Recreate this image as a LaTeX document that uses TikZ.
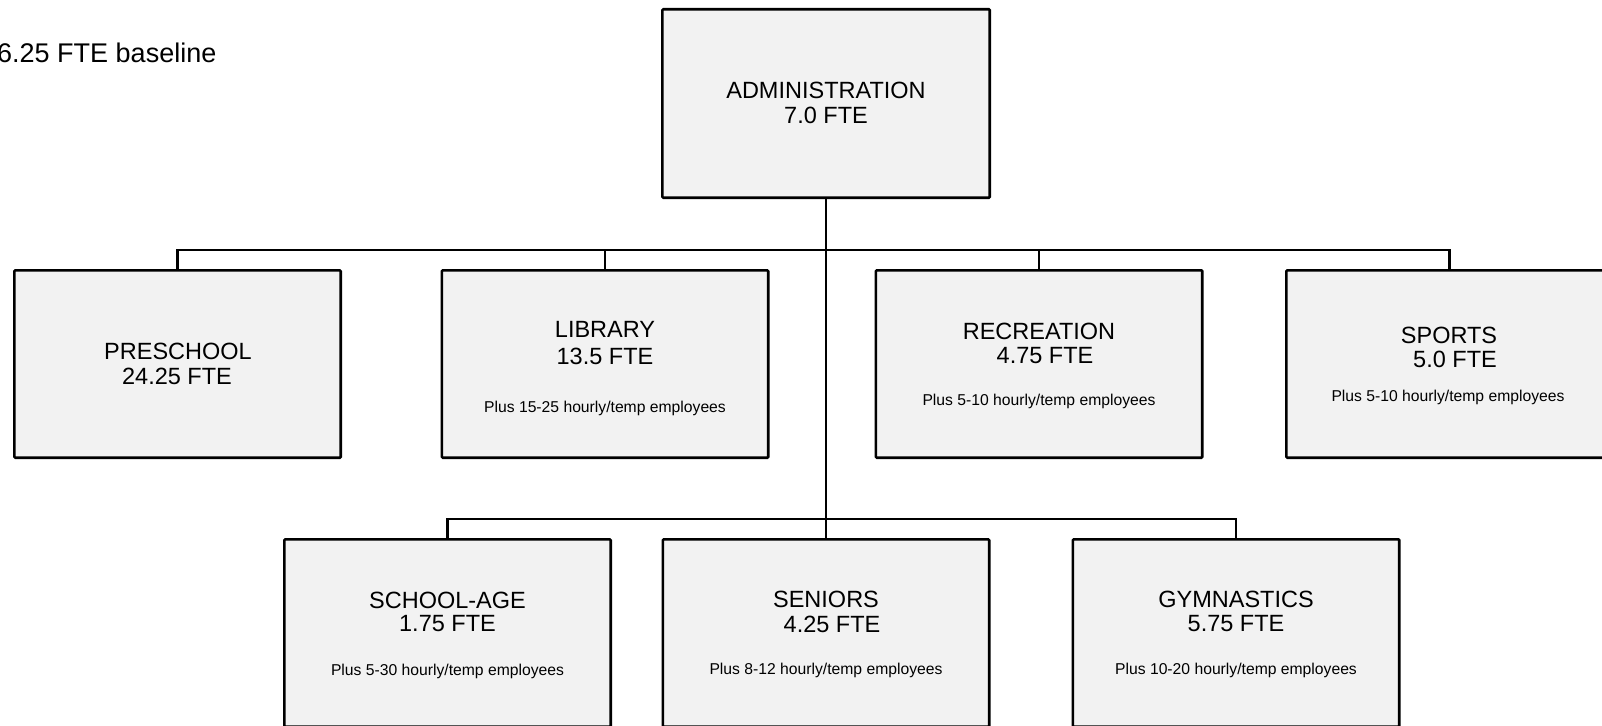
\documentclass[tikz,border=0pt]{standalone}
\usepackage{fontspec}
\setmainfont{Liberation Sans}
\definecolor{boxgray}{HTML}{F2F2F2}
\begin{document}
\begin{tikzpicture}[x=1pt,y=-1pt,
    unitbox/.style={draw, line width=2.6pt, fill=boxgray, rounded corners=1pt,
      minimum width=326.4pt, minimum height=187.4pt},
    unitname/.style={anchor=base, inner sep=0pt, font=\fontsize{23.5}{26}\selectfont},
    unitextra/.style={anchor=base, inner sep=0pt, font=\fontsize{15.7}{17}\selectfont},
    link/.style={line width=2.4pt}]
  \clip (0,0) rectangle (1602,725);
  \fill[white] (0,0) rectangle (1602,725);

  \node[anchor=base west, inner sep=0pt, font=\fontsize{27}{29}\selectfont] (baseline) at (-3,63) {6.25 FTE baseline};

  % boxes
  \node[unitbox, minimum width=327.4pt, minimum height=188.4pt] (admin) at (826,103.5) {};
  \node[unitbox] (preschool) at (177.5,364) {};
  \node[unitbox] (library) at (605,364) {};
  \node[unitbox] (recreation) at (1039,364) {};
  \node[unitbox] (sports) at (1449.5,364) {};
  \node[unitbox] (schoolage) at (447.5,633) {};
  \node[unitbox] (seniors) at (826,633) {};
  \node[unitbox] (gymnastics) at (1236,633) {};

  % texts
  \node[unitname] (admin-name) at (826,98.3) {ADMINISTRATION};
  \node[unitname] (admin-fte) at (826,123) {7.0 FTE};

  \node[unitname] (preschool-name) at (178,359.3) {PRESCHOOL};
  \node[unitname] (preschool-fte) at (177,384) {24.25 FTE};

  \node[unitname] (library-name) at (605,337.7) {LIBRARY};
  \node[unitname] (library-fte) at (605,364.3) {13.5 FTE};
  \node[unitextra] (library-extra) at (605,412.5) {Plus 15-25 hourly/temp employees};

  \node[unitname] (recreation-name) at (1039,339) {RECREATION};
  \node[unitname] (recreation-fte) at (1045,363.3) {4.75 FTE};
  \node[unitextra] (recreation-extra) at (1039,405) {Plus 5-10 hourly/temp employees};

  \node[unitname] (sports-name) at (1449,343.3) {SPORTS};
  \node[unitname] (sports-fte) at (1455,367.7) {5.0 FTE};
  \node[unitextra] (sports-extra) at (1448,401.5) {Plus 5-10 hourly/temp employees};

  \node[unitname] (schoolage-name) at (447.5,608) {SCHOOL-AGE};
  \node[unitname] (schoolage-fte) at (447.5,631.7) {1.75 FTE};
  \node[unitextra] (schoolage-extra) at (447.5,675) {Plus 5-30 hourly/temp employees};

  \node[unitname] (seniors-name) at (826,607.3) {SENIORS};
  \node[unitname] (seniors-fte) at (832,632) {4.25 FTE};
  \node[unitextra] (seniors-extra) at (826,674.3) {Plus 8-12 hourly/temp employees};

  \node[unitname] (gymnastics-name) at (1236,607.3) {GYMNASTICS};
  \node[unitname] (gymnastics-fte) at (1236,631.7) {5.75 FTE};
  \node[unitextra] (gymnastics-extra) at (1236,674.3) {Plus 10-20 hourly/temp employees};

  % connectors
  \coordinate (bus1) at (826,250);
  \coordinate (bus2) at (826,519);
  \begin{scope}[link]
    \draw (admin.south) -- (seniors.north);
    \draw (preschool.north) |- (bus1) -| (sports.north);
    \draw (library.north) |- (bus1);
    \draw (recreation.north) |- (bus1);
    \draw (schoolage.north) |- (bus2) -| (gymnastics.north);
  \end{scope}
\end{tikzpicture}
\end{document}
